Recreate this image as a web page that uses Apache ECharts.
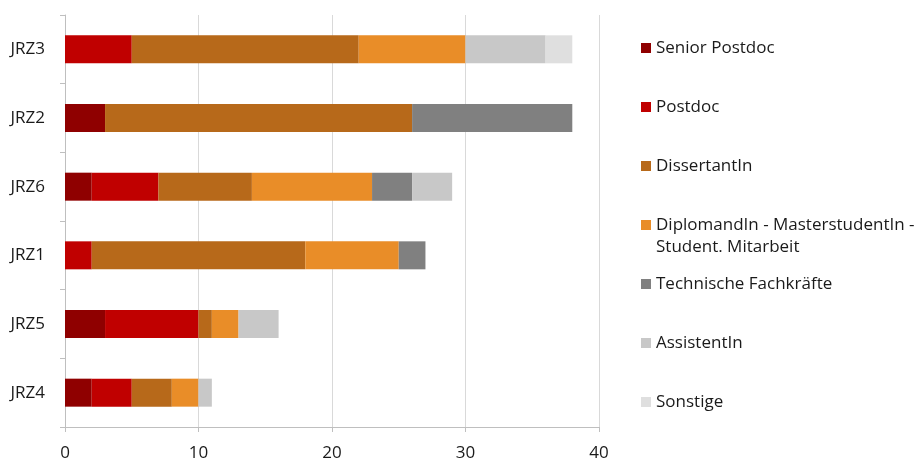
<!DOCTYPE html>
<html>
<head>
<meta charset="utf-8">
<script src="https://cdn.jsdelivr.net/npm/echarts@6/dist/echarts.min.js"></script>
<style>
  html, body { margin: 0; padding: 0; background: #fff; }
  #chart { width: 919px; height: 462px; }
</style>
</head>
<body>
<div id="chart"></div>
<script>
// Staff per research group, stacked by position type
const categories = ['JRZ3', 'JRZ2', 'JRZ6', 'JRZ1', 'JRZ5', 'JRZ4'];

const seniorPostdoc = [0, 3, 2, 0, 3, 2];
const postdoc       = [5, 0, 5, 2, 7, 3];
const dissertant    = [17, 23, 7, 16, 1, 3];
const diplomand     = [8, 0, 9, 7, 2, 2];
const technische    = [0, 12, 3, 2, 0, 0];
const assistent     = [6, 0, 3, 0, 3, 1];
const sonstige      = [2, 0, 0, 0, 0, 0];

const xTicks = [0, 10, 20, 30, 40];

const seriesDefs = [
  { name: 'Senior Postdoc', data: seniorPostdoc, color: '#8F0000' },
  { name: 'Postdoc', data: postdoc, color: '#C00000' },
  { name: 'DissertantIn', data: dissertant, color: '#B7691A' },
  { name: 'DiplomandIn - MasterstudentIn -\nStudent. Mitarbeit', data: diplomand, color: '#E98D28' },
  { name: 'Technische Fachkräfte', data: technische, color: '#808080' },
  { name: 'AssistentIn', data: assistent, color: '#C8C8C8' },
  { name: 'Sonstige', data: sonstige, color: '#DFDFDF' }
];

const FONT = '"Open Sans", sans-serif';
const TEXT = '#1a1a1a';

// Legend entries, one per component so the two-line entry keeps the even spacing.
// The two-line entry gets an empty leading line so its first line sits level with the swatch.
const legendCenters = [48, 107, 166, 225, 284, 343, 402];
const legends = seriesDefs.map((s, i) => {
  const twoLine = s.name.indexOf('\n') >= 0;
  return {
    orient: 'vertical',
    left: 641,
    top: legendCenters[i] - (twoLine ? 33 : 11),
    padding: 0,
    itemWidth: 10,
    itemHeight: 10,
    icon: 'rect',
    selectedMode: false,
    data: [s.name],
    formatter: twoLine ? (name => '\n' + name) : (name => name),
    textStyle: {
      fontFamily: FONT,
      fontSize: 17,
      color: TEXT,
      lineHeight: 22
    }
  };
});

const chart = echarts.init(document.getElementById('chart'));
chart.setOption({
  animation: false,
  backgroundColor: '#fff',
  legend: legends,
  grid: { left: 65, top: 15, width: 534, height: 414, containLabel: false },
  xAxis: {
    type: 'value',
    min: xTicks[0],
    max: xTicks[xTicks.length - 1],
    interval: 10,
    axisLine: { show: true, lineStyle: { color: '#BFBFBF', width: 1 } },
    axisTick: { show: true, length: 5, lineStyle: { color: '#BFBFBF' } },
    splitLine: { show: true, lineStyle: { color: '#D9D9D9', width: 1 } },
    axisLabel: { fontFamily: FONT, fontSize: 17, color: TEXT, margin: 18 }
  },
  yAxis: {
    type: 'category',
    inverse: true,
    data: categories,
    axisLine: { show: true, lineStyle: { color: '#BFBFBF', width: 1 } },
    axisTick: { show: true, length: 5, lineStyle: { color: '#BFBFBF' } },
    axisLabel: { fontFamily: FONT, fontSize: 17, color: TEXT, margin: 20 }
  },
  series: seriesDefs.map(s => ({
    name: s.name,
    type: 'bar',
    stack: 'total',
    barWidth: 28,
    data: s.data,
    itemStyle: { color: s.color },
    emphasis: { disabled: true }
  }))
});
</script>
</body>
</html>
